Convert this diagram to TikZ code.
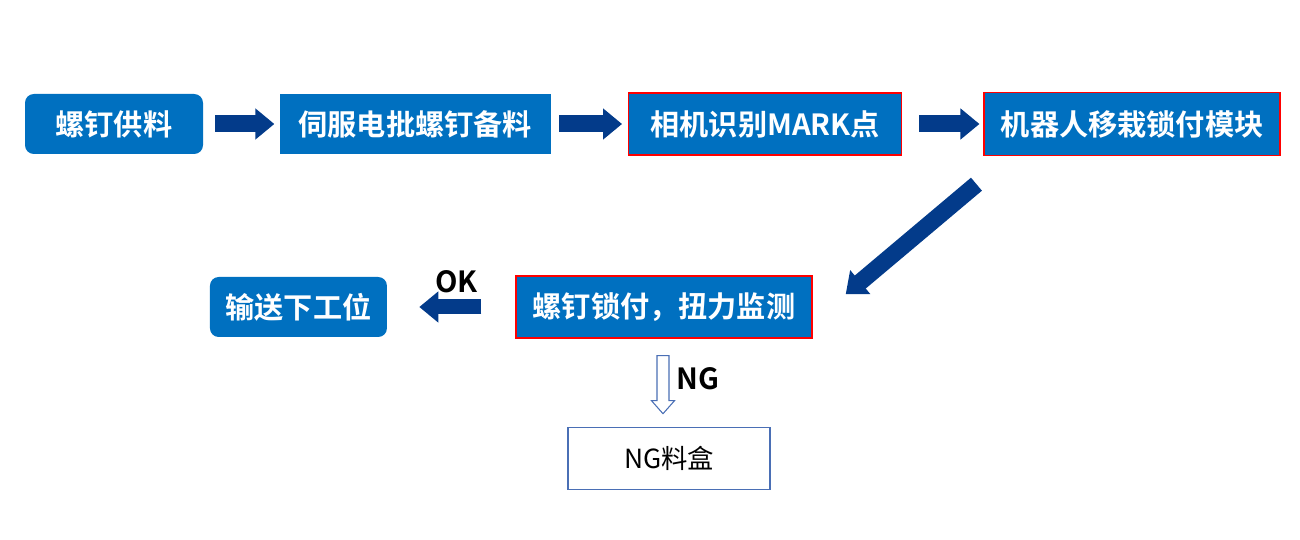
\documentclass[tikz,border=0pt]{standalone}
\usepackage{fontspec}
\setmainfont{Noto Sans CJK SC}[BoldFont={Noto Sans CJK SC Bold}]
\usepackage{xcolor}
\definecolor{boxblue}{HTML}{0070C0}
\definecolor{arrowblue}{HTML}{033B8A}
\definecolor{edgered}{HTML}{FF0000}
\definecolor{ngblue}{HTML}{4A6FB5}
\usetikzlibrary{arrows.meta, positioning, calc}

\begin{document}
\begin{tikzpicture}[
        font=\bfseries\fontsize{16.6}{19}\selectfont,
        stepbox/.style={
            rectangle,
            fill=boxblue,
            text=white,
            align=center,
            minimum height=1.2cm,
            inner sep=0pt
        },
        roundbox/.style={
            stepbox,
            rounded corners=5pt
        },
        redbox/.style={
            stepbox,
            draw=edgered,
            line width=0.8pt,
            minimum height=1.24cm
        },
        blockarrow/.style={
            -{Triangle[length=0.38cm, width=0.6cm]},
            draw=arrowblue,
            line width=0.34cm
        },
        hollowarrow/.style={
            draw=ngblue,
            line width=0.6pt,
            fill=white,
            line join=miter
        },
        lbl/.style={
            text=black,
            inner sep=0pt
        }
    ]
    \useasboundingbox (0,0) rectangle (26,-10.8);

    % Top row
    \node[roundbox, minimum width=3.56cm] (feed) at (2.28,-2.48) {螺钉供料};
    \node[stepbox, right=1.52cm of feed, minimum width=5.42cm] (prep) {伺服电批螺钉备料};
    \node[redbox, right=1.54cm of prep, minimum width=5.46cm] (mark) {相机识别MARK点};
    \node[redbox, right=1.62cm of mark, minimum width=5.92cm, minimum height=1.26cm] (robot) {机器人移栽锁付模块};

    % Bottom row
    \node[redbox, minimum width=5.92cm] (lock) at (13.28,-6.14) {螺钉锁付，扭力监测};
    \node[roundbox, left=2.56cm of lock, minimum width=3.54cm] (out) {输送下工位};
    \node[rectangle, draw=ngblue, line width=0.7pt, below=1.76cm of lock, xshift=0.1cm,
          minimum width=4.04cm, minimum height=1.24cm,
          font=\mdseries\fontsize{15}{18}\selectfont] (ngbox) {NG料盒};

    % Arrows
    \draw[blockarrow, shorten <=0.24cm, shorten >=0.1cm] (feed.east) -- (prep.west);
    \draw[blockarrow, shorten <=0.16cm, shorten >=0.12cm] (prep.east) -- (mark.west);
    \draw[blockarrow, shorten <=0.34cm, shorten >=0.08cm] (mark.east) -- (robot.west);
    \draw[blockarrow] ([xshift=-0.14cm, yshift=-0.56cm]robot.south west) -- ([xshift=0.66cm, yshift=-0.38cm]lock.north east);
    \draw[blockarrow, line width=0.3cm, shorten <=0.68cm, shorten >=0.64cm] (lock.west) -- (out.east);
    \node[lbl] (oklbl) at ($(out.east)!0.54!(lock.west)+(0,0.5)$) {OK};

    % NG branch
    \coordinate (ngtop) at ([xshift=-0.02cm, yshift=-0.34cm]lock.south);
    \coordinate (ngtip) at ([yshift=0.26cm]ngtop |- ngbox.north);
    \draw[hollowarrow] ($(ngtop)+(-0.12,0)$) -- ($(ngtip)+(-0.12,0.26)$) -- ($(ngtip)+(-0.23,0.26)$)
        -- (ngtip) -- ($(ngtip)+(0.23,0.26)$) -- ($(ngtip)+(0.12,0.26)$) -- ($(ngtop)+(0.12,0)$) -- cycle;
    \node[lbl] (nglbl) at ($(ngtop)+(0.7,-0.46)$) {NG};

\end{tikzpicture}
\end{document}
